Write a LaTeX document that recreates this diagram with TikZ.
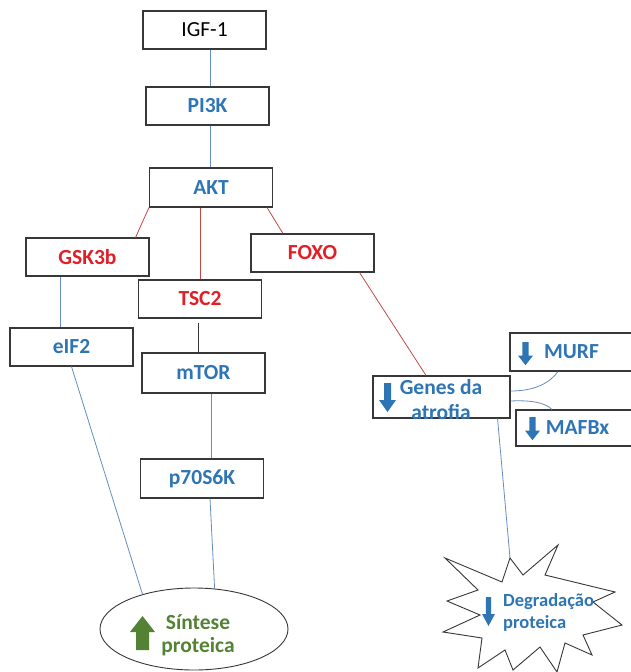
\documentclass[tikz,border=0pt]{standalone}
\usepackage{fontspec}
\setmainfont{Carlito}
\usetikzlibrary{positioning,shapes.geometric}

\definecolor{txtblue}{RGB}{46,117,182}
\definecolor{txtred}{RGB}{226,30,38}
\definecolor{txtgreen}{RGB}{84,130,53}
\definecolor{lineblue}{RGB}{100,140,195}
\definecolor{linered}{RGB}{196,72,72}
\definecolor{boxgray}{RGB}{55,55,55}

\begin{document}
\begin{tikzpicture}[x=1pt,y=-1pt,
box/.style={draw=boxgray,line width=1.1pt,fill=white,minimum width=123pt,minimum height=38pt,inner sep=0pt,font=\fontsize{21.5}{25}\selectfont},
bluebox/.style={box,text=txtblue,font=\fontsize{21.5}{25}\selectfont\bfseries},
redbox/.style={box,text=txtred,font=\fontsize{21.5}{25}\selectfont\bfseries},
pathway/.style={draw=lineblue,line width=0.8pt},
inhib/.style={draw=linered,line width=0.8pt},
pics/downarrow/.style={code={\fill (-3.5,0) -- (3.5,0) -- (3.5,17) -- (8.5,17) -- (0,29) -- (-8.5,17) -- (-3.5,17) -- cycle;}},
pics/uparrow/.style={code={\fill (0,0) -- (12.5,16) -- (6.5,16) -- (6.5,34) -- (-6.5,34) -- (-6.5,16) -- (-12.5,16) -- cycle;}}]
\clip (0,0) rectangle (631,672);

% signalling boxes
\node[box] (igf) at (204.5,30) {IGF-1};
\node[bluebox] (pi3k) at (207.5,106) {PI3K};
\node[bluebox,minimum height=39pt] (akt) at (211,187.5) {AKT};
\node[redbox] (gsk) at (87.5,257) {GSK3b};
\node[redbox] (foxo) at (312.5,253) {FOXO};
\node[redbox] (tsc) at (200,299) {TSC2};
\node[bluebox] (eif) at (71.5,347) {eIF2};
\node[bluebox,minimum height=40pt] (mtor) at (203.5,373) {mTOR};
\node[bluebox,minimum height=39pt] (p70) at (202,478.5) {p70S6K};
\node[box,minimum width=137pt,minimum height=42pt] (genes) at (441.5,397) {};
\node[bluebox] (murf) at (571.5,352) {MURF};
\node[bluebox,minimum height=36pt] (mafbx) at (577.5,428) {MAFBx};

% outcomes
\node[ellipse,draw=boxgray,line width=0.9pt,minimum width=188pt,minimum height=82pt] (sint) at (194,629) {};
\draw[boxgray,line width=0.9pt,fill=white] (445,558) -- (502,582) -- (510,558) -- (523,575) -- (558,545)
  -- (545,575) -- (615,592) -- (593,602) -- (622,625) -- (583,635) -- (592,655) -- (565,643)
  -- (557,672) -- (540,647) -- (513,670) -- (505,650) -- (478,668) -- (482,638) -- (443,632)
  -- (480,615) -- (447,601) -- (478,590) -- cycle;
\coordinate (startip) at (510,558);

% texts and block arrows
\node[text=txtblue,font=\fontsize{21.5}{25}\selectfont\bfseries,align=center,inner sep=0pt] (genestxt) at (441,400) {Genes da\\atrofia};
\node[text=txtgreen,font=\fontsize{21.5}{23}\selectfont\bfseries,align=center,inner sep=0pt] (sinttxt) at (198,635) {Síntese\\proteica};
\node[text=txtblue,font=\fontsize{18.5}{22}\selectfont\bfseries,align=left,inner sep=0pt,anchor=west] (degrad) at (503,612) {Degradação\\proteica};
\pic[color=txtblue] at (387.5,383) {downarrow};
\pic[color=txtblue,xscale=0.88,yscale=0.8] at (525.5,342) {downarrow};
\pic[color=txtblue,xscale=0.88,yscale=0.8] at (532.5,417) {downarrow};
\pic[color=txtblue,xscale=0.76] at (488.5,597) {downarrow};
\pic[color=txtgreen] at (142.5,616) {uparrow};

% connectors
\path[pathway] ([xshift=5.5pt]igf.south) edge ([xshift=2.5pt]pi3k.north)
  ([xshift=2.5pt]pi3k.south) edge ([xshift=-1pt]akt.north)
  ([xshift=-27.5pt]gsk.south) edge ([xshift=-11.5pt]eif.north)
  ([xshift=7.5pt]mtor.south) edge ([xshift=9pt]p70.north)
  (eif.south) edge (sint.146)
  ([xshift=8pt]p70.south) edge (sint.63)
  ([xshift=-13pt]genes.south east) edge (startip);
\path[inhib] (akt.south west) edge ([xshift=-14pt]gsk.north east)
  ([xshift=-11pt]akt.south) edge (tsc.north)
  ([xshift=-6pt]akt.south east) edge ([xshift=-29.5pt]foxo.north)
  ([xshift=-15pt]foxo.south east) edge ([xshift=-15.5pt]genes.north);
\draw[boxgray,line width=0.8pt] ([xshift=-2pt,yshift=-4pt]tsc.south) -- ([xshift=-5.5pt]mtor.north);
\draw[pathway] ([yshift=6pt]genes.east) .. controls +(25,0) and +(-8,11) .. ([xshift=-13.5pt]murf.south);
\draw[pathway] ([yshift=-4pt]genes.east) .. controls +(20,-1) and +(-7,-7) .. ([xshift=-25.5pt]mafbx.north);
\end{tikzpicture}
\end{document}
